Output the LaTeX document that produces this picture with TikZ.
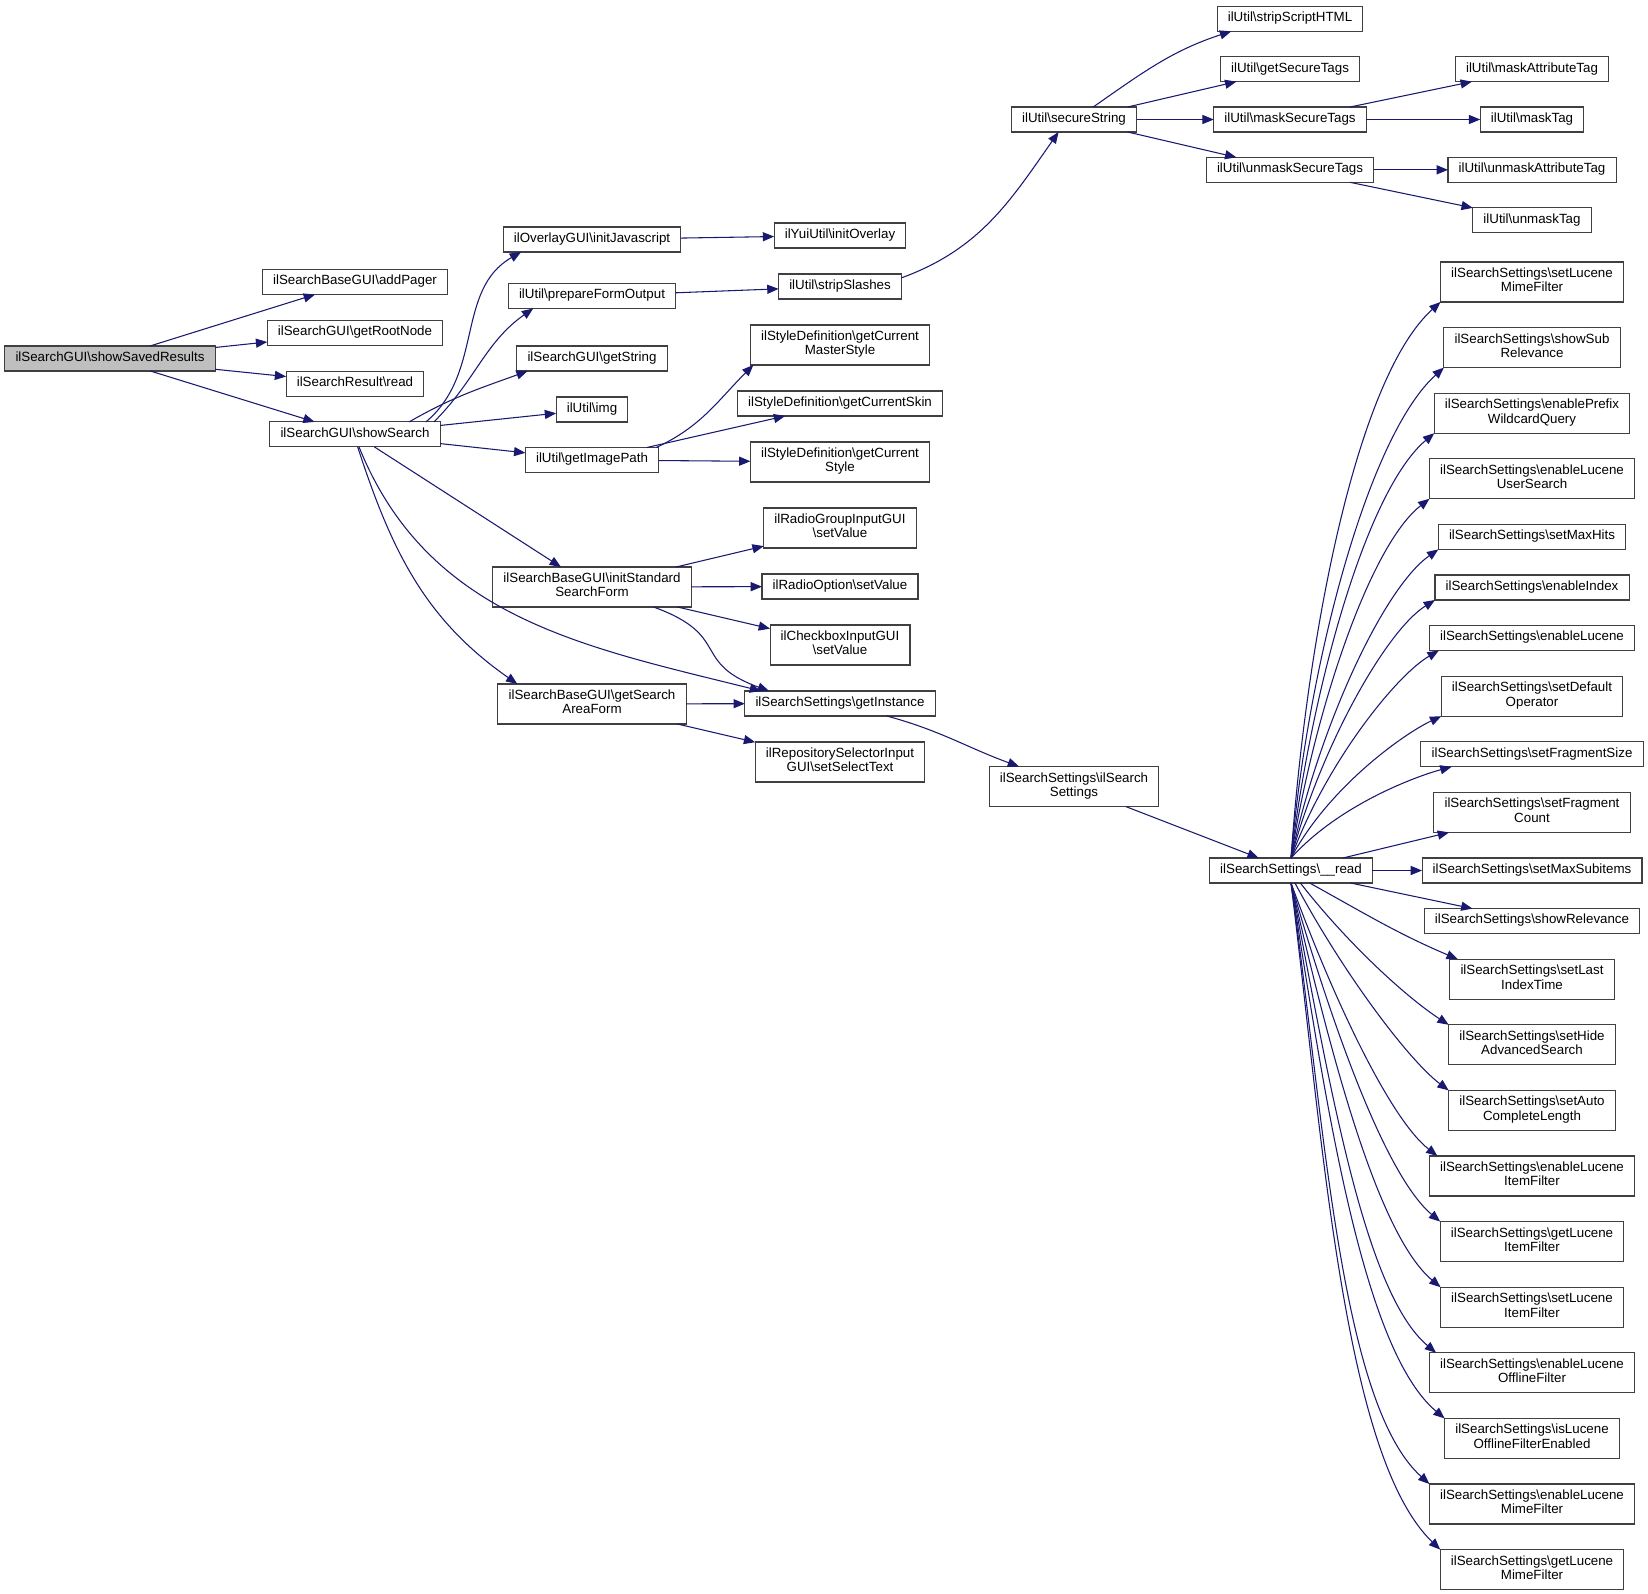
\documentclass[tikz,border=0pt]{standalone}
\usepackage{fontspec}
\setmainfont{Liberation Sans}
\usetikzlibrary{positioning, arrows.meta}
\definecolor{edgeblue}{rgb}{0.1, 0.1, 0.44}
\definecolor{boxline}{rgb}{0.25, 0.25, 0.25}
\definecolor{rootfill}{rgb}{0.75, 0.75, 0.75}
\newcommand{\bsl}{\textbackslash}
\tikzstyle{fn} = [rectangle,draw=boxline,fill=white,line width=0.8pt,inner xsep=8pt,inner ysep=2pt,outer sep=0pt,minimum height=18.75pt,font=\fontsize{10}{10.75}\selectfont,execute at begin node=\strut,execute at end node=\strut]
\tikzstyle{fntwo} = [fn,align=center,minimum height=30pt]
\tikzstyle{call} = [draw=edgeblue,line width=0.8pt,-{Triangle[length=8.5pt,width=6.8pt]}]
\begin{document}
\begin{tikzpicture}[x=0.75pt, y=0.75pt, node distance=19.2pt]
		\useasboundingbox (0,0) rectangle (1648,-1594);
		% caller and its direct callees
		\node [fn,fill=rootfill] (ssr) at (110,-358.5) {ilSearchGUI\bsl showSavedResults};
		\node [fn] (addpager) at (355,-282) {ilSearchBaseGUI\bsl addPager};
		\node [fn,below=19.35pt of addpager] (rootnode) {ilSearchGUI\bsl getRootNode};
		\node [fn,below=19.35pt of rootnode] (resread) {ilSearchResult\bsl read};
		\node [fn,below=19.35pt of resread] (showsearch) {ilSearchGUI\bsl showSearch};
		
		% called by showSearch
		\node [fn] (initjs) at (592,-239.5) {ilOverlayGUI\bsl initJavascript};
		\node [fn] (pfo) at (592,-296) {ilUtil\bsl prepareFormOutput};
		\node [fn] (getstring) at (592,-358.5) {ilSearchGUI\bsl getString};
		\node [fn] (img) at (592,-409.5) {ilUtil\bsl img};
		\node [fn] (imgpath) at (592,-460) {ilUtil\bsl getImagePath};
		\node [fntwo] (stdform) at (592,-587) {ilSearchBaseGUI\bsl initStandard\\SearchForm};
		\node [fntwo] (areaform) at (592,-704) {ilSearchBaseGUI\bsl getSearch\\AreaForm};
		
		% third column
		\node [fn] (initoverlay) at (840,-235.5) {ilYuiUtil\bsl initOverlay};
		\node [fn,below=19.5pt of initoverlay] (stripslashes) {ilUtil\bsl stripSlashes};
		\node [fntwo,below=19.5pt of stripslashes] (masterstyle) {ilStyleDefinition\bsl getCurrent\\MasterStyle};
		\node [fn,below=19.5pt of masterstyle] (skin) {ilStyleDefinition\bsl getCurrentSkin};
		\node [fntwo,below=19.5pt of skin] (curstyle) {ilStyleDefinition\bsl getCurrent\\Style};
		\node [fntwo,below=19.5pt of curstyle] (rgvalue) {ilRadioGroupInputGUI\\\bsl setValue};
		\node [fn,below=19.5pt of rgvalue] (rovalue) {ilRadioOption\bsl setValue};
		\node [fntwo,below=19.5pt of rovalue] (cbvalue) {ilCheckboxInputGUI\\\bsl setValue};
		\node [fn,below=19.5pt of cbvalue] (instance) {ilSearchSettings\bsl getInstance};
		\node [fntwo,below=19.5pt of instance] (reposel) {ilRepositorySelectorInput\\GUI\bsl setSelectText};
		
		% secureString and its callees
		\node [fn] (securestr) at (1074,-119.5) {ilUtil\bsl secureString};
		\node [fn] (masktags) at (1290,-119.5) {ilUtil\bsl maskSecureTags};
		\node [fn,above=19pt of masktags] (securetags) {ilUtil\bsl getSecureTags};
		\node [fn,above=19pt of securetags] (scripthtml) {ilUtil\bsl stripScriptHTML};
		\node [fn,below=19pt of masktags] (unmasktags) {ilUtil\bsl unmaskSecureTags};
		\node [fn] (masktag) at (1532,-119.5) {ilUtil\bsl maskTag};
		\node [fn,above=19pt of masktag] (maskattr) {ilUtil\bsl maskAttributeTag};
		\node [fn,below=19pt of masktag] (unmaskattr) {ilUtil\bsl unmaskAttributeTag};
		\node [fn,below=19pt of unmaskattr] (unmasktag) {ilUtil\bsl unmaskTag};
		
		% settings
		\node [fntwo] (issctor) at (1074,-786.5) {ilSearchSettings\bsl ilSearch\\Settings};
		\node [fn] (rd) at (1291,-870.5) {ilSearchSettings\bsl \_\_read};
		
		% called by __read
		\node [fn] (maxsub) at (1532,-870.5) {ilSearchSettings\bsl setMaxSubitems};
		\node [fntwo,above=of maxsub] (fragcount) {ilSearchSettings\bsl setFragment\\Count};
		\node [fn,above=of fragcount] (fragsize) {ilSearchSettings\bsl setFragmentSize};
		\node [fntwo,above=of fragsize] (defop) {ilSearchSettings\bsl setDefault\\Operator};
		\node [fn,above=of defop] (enlucene) {ilSearchSettings\bsl enableLucene};
		\node [fn,above=of enlucene] (enindex) {ilSearchSettings\bsl enableIndex};
		\node [fn,above=of enindex] (maxhits) {ilSearchSettings\bsl setMaxHits};
		\node [fntwo,above=of maxhits] (usersearch) {ilSearchSettings\bsl enableLucene\\UserSearch};
		\node [fntwo,above=of usersearch] (prefix) {ilSearchSettings\bsl enablePrefix\\WildcardQuery};
		\node [fntwo,above=of prefix] (subrel) {ilSearchSettings\bsl showSub\\Relevance};
		\node [fntwo,above=of subrel] (mimeset) {ilSearchSettings\bsl setLucene\\MimeFilter};
		\node [fn,below=of maxsub] (showrel) {ilSearchSettings\bsl showRelevance};
		\node [fntwo,below=of showrel] (lastidx) {ilSearchSettings\bsl setLast\\IndexTime};
		\node [fntwo,below=of lastidx] (hideadv) {ilSearchSettings\bsl setHide\\AdvancedSearch};
		\node [fntwo,below=of hideadv] (autolen) {ilSearchSettings\bsl setAuto\\CompleteLength};
		\node [fntwo,below=of autolen] (enitem) {ilSearchSettings\bsl enableLucene\\ItemFilter};
		\node [fntwo,below=of enitem] (getitem) {ilSearchSettings\bsl getLucene\\ItemFilter};
		\node [fntwo,below=of getitem] (setitem) {ilSearchSettings\bsl setLucene\\ItemFilter};
		\node [fntwo,below=of setitem] (enoffline) {ilSearchSettings\bsl enableLucene\\OfflineFilter};
		\node [fntwo,below=of enoffline] (isoffline) {ilSearchSettings\bsl isLucene\\OfflineFilterEnabled};
		\node [fntwo,below=of isoffline] (enmime) {ilSearchSettings\bsl enableLucene\\MimeFilter};
		\node [fntwo,below=of enmime] (getmime) {ilSearchSettings\bsl getLucene\\MimeFilter};
		
		% calls
		\draw[call] (ssr) -- (addpager);
		\draw[call] (ssr) -- (rootnode);
		\draw[call] (ssr) -- (resread);
		\draw[call] (ssr) -- (showsearch);
		
		\draw[call] (showsearch.10) to[out=40,in=210] (initjs.190);
		\draw[call] (showsearch.9) to[out=45,in=215] (pfo.192);
		\draw[call] (showsearch.13) to[out=30,in=200] (getstring.191);
		\draw[call] (showsearch) -- (img);
		\draw[call] (showsearch) -- (imgpath);
		\draw[call] (showsearch) -- (stdform);
		\draw[call] ([xshift=3pt]showsearch.south) to[out=-68,in=166] (instance.171);
		\draw[call] ([xshift=2pt]showsearch.south) to[out=-72,in=145] (areaform.165);
		
		\draw[call] (stdform) -- (rgvalue);
		\draw[call] (stdform) -- (rovalue);
		\draw[call] (stdform) -- (cbvalue);
		\draw[call] (stdform.-18) to[out=-20,in=160,looseness=1.5] (instance.170);
		\draw[call] (areaform) -- (instance);
		\draw[call] (areaform) -- (reposel);
		
		\draw[call] (initjs) -- (initoverlay);
		\draw[call] (pfo) -- (stripslashes);
		\draw[call] (imgpath.11) to[out=25,in=225] (masterstyle.193);
		\draw[call] (imgpath) -- (skin);
		\draw[call] (imgpath) -- (curstyle);
		
		\draw[call] (instance) to[out=-15,in=160] (issctor);
		\draw[call] (issctor) -- (rd);
		
		\draw[call] (stripslashes.8) to[out=20,in=235] (securestr.219);
		\draw[call] (securestr.33) to[out=35,in=198] (scripthtml.192);
		\draw[call] (securestr) -- (securetags);
		\draw[call] (securestr) -- (masktags);
		\draw[call] (securestr) -- (unmasktags);
		\draw[call] (masktags) -- (maskattr);
		\draw[call] (masktags) -- (masktag);
		\draw[call] (unmasktags) -- (unmaskattr);
		\draw[call] (unmasktags) -- (unmasktag);
		
		\draw[call] (rd.north) to[out=86,in=222,in looseness=0.5] (mimeset.south west);
		\draw[call] (rd.north) to[out=85,in=222,in looseness=0.5] (subrel.south west);
		\draw[call] (rd.north) to[out=83,in=220,in looseness=0.5] (prefix.south west);
		\draw[call] (rd.north) to[out=81,in=218,in looseness=0.5] (usersearch.south west);
		\draw[call] (rd.north) to[out=78,in=215,in looseness=0.5] (maxhits.south west);
		\draw[call] (rd.north) to[out=75,in=212,in looseness=0.5] (enindex.south west);
		\draw[call] (rd.north) to[out=70,in=210,in looseness=0.5] ([xshift=7pt]enlucene.south west);
		\draw[call] (rd.north) to[out=62,in=205,in looseness=0.5] (defop.south west);
		\draw[call] (rd.north) to[out=48,in=195,in looseness=0.5] ([xshift=23pt]fragsize.south west);
		\draw[call] (rd) -- (fragcount);
		\draw[call] (rd) -- (maxsub);
		\draw[call] (rd) -- (showrel);
		\draw[call] ([xshift=14pt]rd.south) to[out=-29,in=157] ([xshift=6pt]lastidx.north west);
		\draw[call] ([xshift=7pt]rd.south) to[out=-52,in=147,in looseness=0.6] (hideadv.north west);
		\draw[call] ([xshift=3pt]rd.south) to[out=-62,in=143,in looseness=0.5] (autolen.north west);
		\draw[call] (rd.south) to[out=-70,in=142,in looseness=0.5] ([xshift=6pt]enitem.north west);
		\draw[call] (rd.south) to[out=-74,in=140,in looseness=0.5] (getitem.north west);
		\draw[call] (rd.south) to[out=-77,in=140,in looseness=0.5] (setitem.north west);
		\draw[call] (rd.south) to[out=-79,in=140,in looseness=0.5] ([xshift=5pt]enoffline.north west);
		\draw[call] (rd.south) to[out=-81,in=140,in looseness=0.5] (isoffline.north west);
		\draw[call] (rd.south) to[out=-82,in=138,in looseness=0.5] (enmime.north west);
		\draw[call] (rd.south) to[out=-83,in=136,in looseness=0.5] (getmime.north west);
		\end{tikzpicture}
\end{document}
